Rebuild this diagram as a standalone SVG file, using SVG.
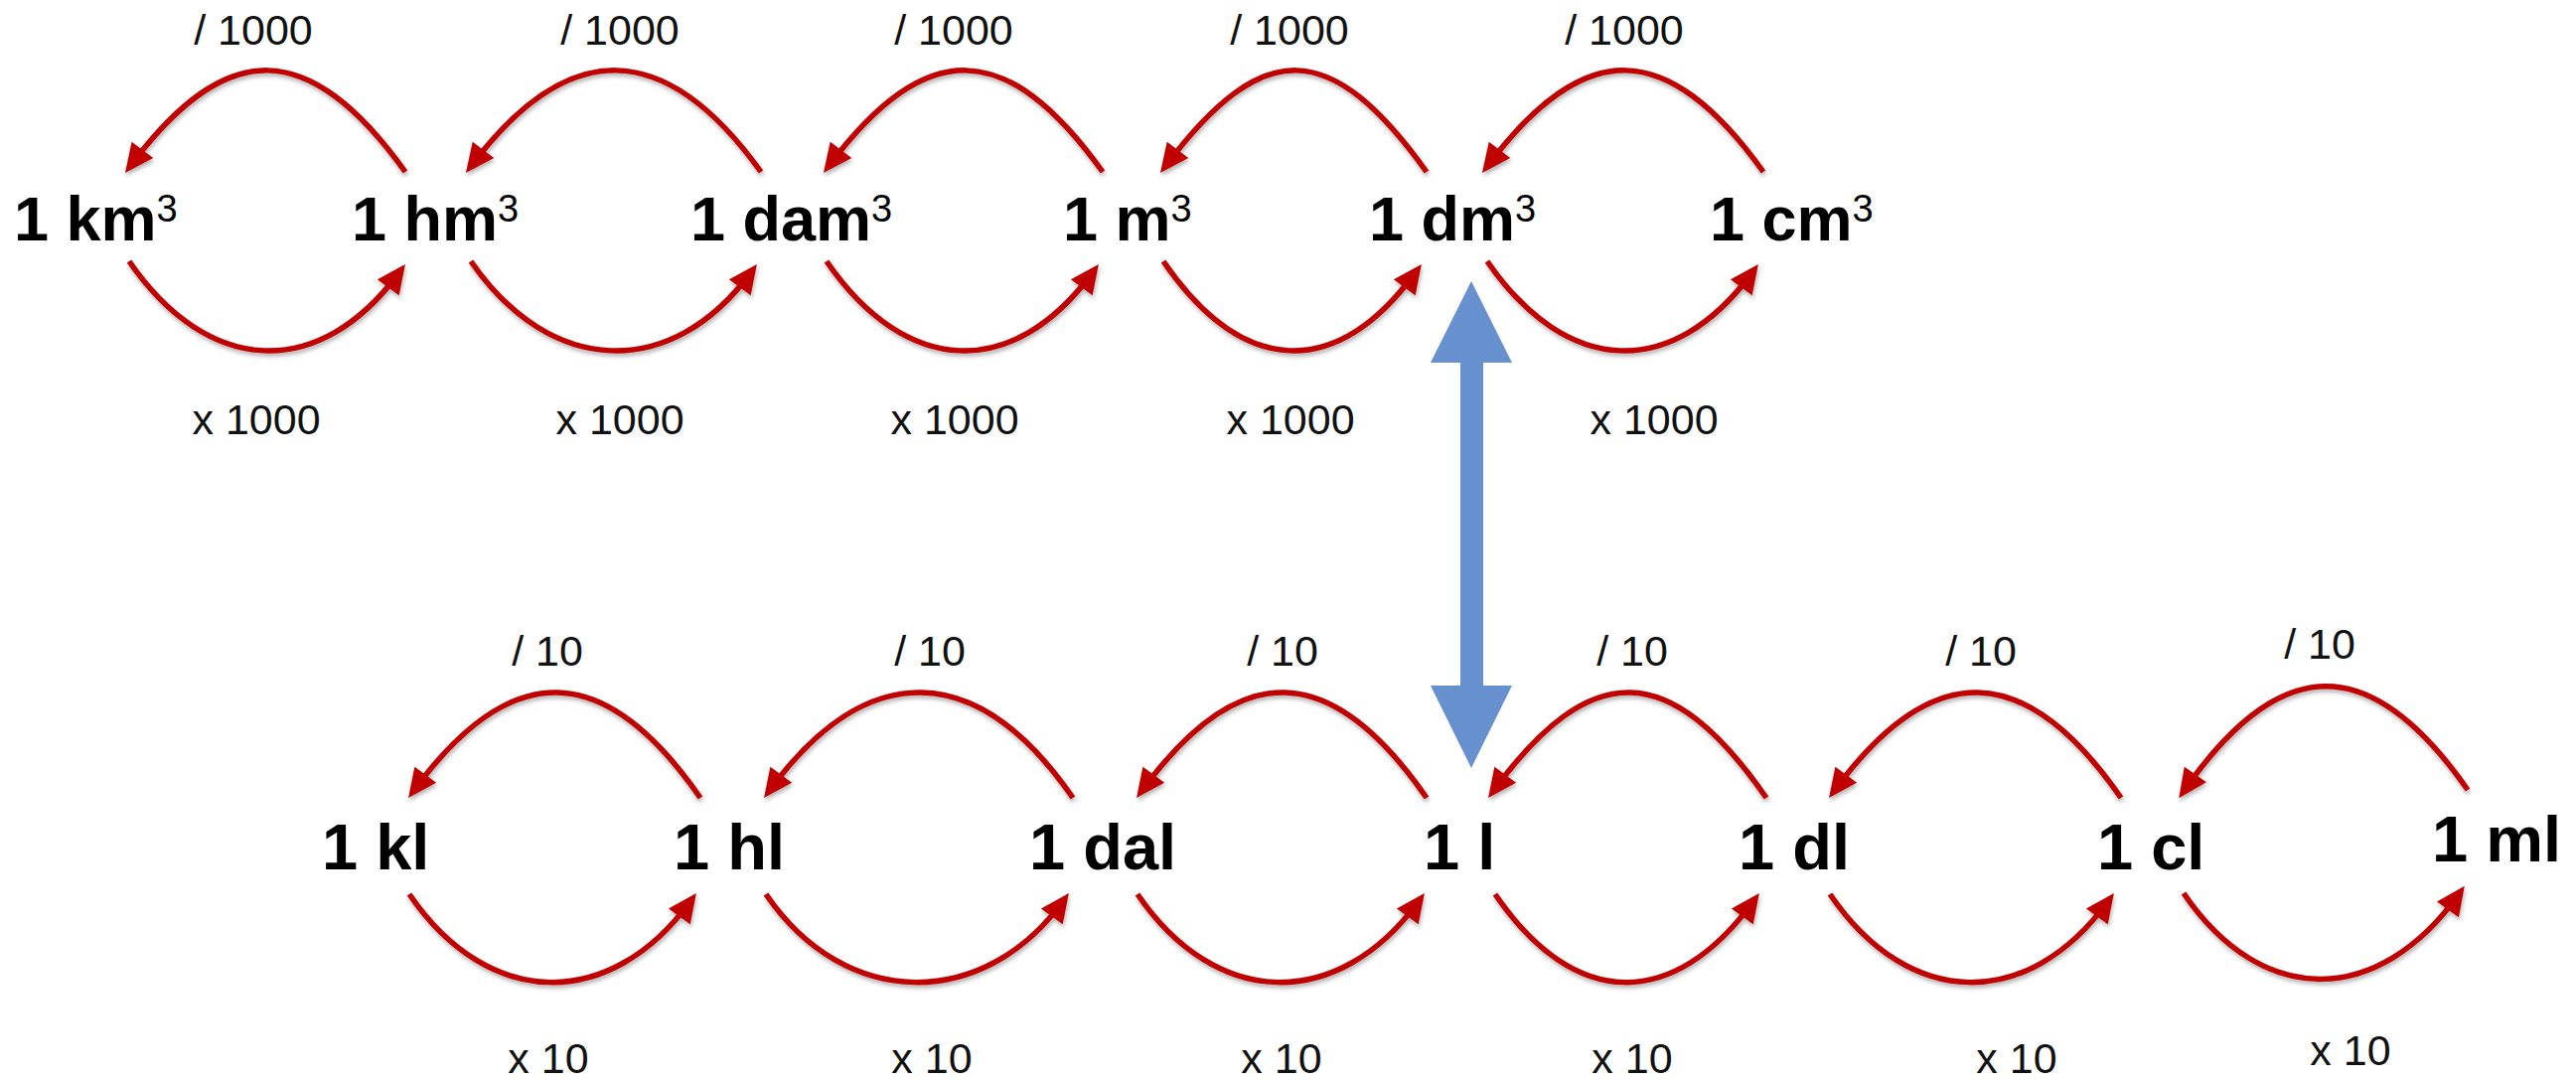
<svg xmlns="http://www.w3.org/2000/svg" width="2593" height="1087" viewBox="0 0 2593 1087">
<style>
.node{font-family:"Liberation Sans",Arial,sans-serif;font-weight:bold;fill:#000}
.top{font-size:63px}
.bot{font-size:65px}
.sup{font-size:38px;font-weight:normal}
.lbl{font-family:"Liberation Sans",Arial,sans-serif;font-size:43px;fill:#111;text-anchor:middle}
.arc{fill:none;stroke:#c00000;stroke-width:5.5;marker-end:url(#ah)}
</style>
<defs>
<marker id="ah" markerUnits="userSpaceOnUse" markerWidth="40" markerHeight="40" refX="19" refY="13.5" orient="auto" overflow="visible">
<path d="M0,0 L29,13.5 L0,27 z" fill="#c00000"/>
</marker>
<filter id="sh" x="-5%" y="-5%" width="110%" height="115%">
<feDropShadow dx="1" dy="3" stdDeviation="2" flood-color="#000" flood-opacity="0.3"/>
</filter>
</defs>
<rect width="2593" height="1087" fill="#fff"/>

<g id="connectors" filter="url(#sh)">
<!-- top row: division arcs (right to left) -->
<path class="arc" d="M408,173 C311,38 228,38 132,166"/>
<path class="arc" d="M766,173 C669,38 572,38 475,166"/>
<path class="arc" d="M1110,173 C1013,38 932,38 835,166"/>
<path class="arc" d="M1436,173 C1339,38 1271,38 1174,166"/>
<path class="arc" d="M1775,173 C1678,38 1595,38 1498,166"/>
<!-- top row: multiplication arcs (left to right) -->
<path class="arc" d="M130,263 C210,379 322,383 402,274"/>
<path class="arc" d="M474,263 C554,379 676,383 756,274"/>
<path class="arc" d="M832,263 C912,379 1020,383 1100,274"/>
<path class="arc" d="M1171,263 C1251,379 1345,383 1425,274"/>
<path class="arc" d="M1497,263 C1577,379 1684,383 1764,274"/>
<!-- bottom row: division arcs -->
<path class="arc" d="M705,803 C608,663 514,663 417,795"/>
<path class="arc" d="M1080,803 C983,663 872,663 775,795"/>
<path class="arc" d="M1436,803 C1339,663 1247,663 1150,795"/>
<path class="arc" d="M1778,803 C1681,663 1601,663 1504,795"/>
<path class="arc" d="M2135,803 C2038,663 1944,663 1847,795"/>
<path class="arc" d="M2484,795 C2387,656 2296,656 2199,795"/>
<!-- bottom row: multiplication arcs -->
<path class="arc" d="M412,900 C492,1017 615,1017 695,907"/>
<path class="arc" d="M771,900 C851,1017 990,1017 1070,907"/>
<path class="arc" d="M1145,900 C1225,1017 1348,1017 1428,907"/>
<path class="arc" d="M1505,900 C1585,1017 1685,1017 1765,907"/>
<path class="arc" d="M1842,900 C1922,1017 2042,1017 2122,907"/>
<path class="arc" d="M2198,899 C2278,1016 2395,1012 2475,900"/>
</g>

<g id="labels">
<text class="lbl" x="255" y="45">/ 1000</text>
<text class="lbl" x="624" y="45">/ 1000</text>
<text class="lbl" x="960" y="45">/ 1000</text>
<text class="lbl" x="1298" y="45">/ 1000</text>
<text class="lbl" x="1635" y="45">/ 1000</text>
<text class="lbl" x="258" y="437">x 1000</text>
<text class="lbl" x="624" y="437">x 1000</text>
<text class="lbl" x="961" y="437">x 1000</text>
<text class="lbl" x="1299" y="437">x 1000</text>
<text class="lbl" x="1665" y="437">x 1000</text>
<text class="lbl" x="551" y="670">/ 10</text>
<text class="lbl" x="936" y="670">/ 10</text>
<text class="lbl" x="1291" y="670">/ 10</text>
<text class="lbl" x="1643" y="670">/ 10</text>
<text class="lbl" x="1994" y="670">/ 10</text>
<text class="lbl" x="2335" y="663">/ 10</text>
<text class="lbl" x="552" y="1080">x 10</text>
<text class="lbl" x="938" y="1080">x 10</text>
<text class="lbl" x="1290" y="1080">x 10</text>
<text class="lbl" x="1643" y="1080">x 10</text>
<text class="lbl" x="2030" y="1080">x 10</text>
<text class="lbl" x="2366" y="1072">x 10</text>
</g>

<g id="link-dm3-l">
<polygon points="1481,283 1522,365 1493,365 1493,690 1522,690 1481,773 1440,690 1470,690 1470,365 1440,365" fill="#6790cf"/>
</g>

<g id="n-km3"><text class="node top" x="14" y="242">1 km<tspan class="sup" dy="-19">3</tspan></text></g>
<g id="n-hm3"><text class="node top" x="354" y="242">1 hm<tspan class="sup" dy="-19">3</tspan></text></g>
<g id="n-dam3"><text class="node top" x="695" y="242">1 dam<tspan class="sup" dy="-19">3</tspan></text></g>
<g id="n-m3"><text class="node top" x="1070" y="242">1 m<tspan class="sup" dy="-19">3</tspan></text></g>
<g id="n-dm3"><text class="node top" x="1378" y="242">1 dm<tspan class="sup" dy="-19">3</tspan></text></g>
<g id="n-cm3"><text class="node top" x="1721" y="242">1 cm<tspan class="sup" dy="-19">3</tspan></text></g>

<g id="n-kl"><text class="node bot" x="324" y="875">1 kl</text></g>
<g id="n-hl"><text class="node bot" x="678" y="875">1 hl</text></g>
<g id="n-dal"><text class="node bot" x="1036" y="875">1 dal</text></g>
<g id="n-l"><text class="node bot" x="1433" y="875">1 l</text></g>
<g id="n-dl"><text class="node bot" x="1750" y="875">1 dl</text></g>
<g id="n-cl"><text class="node bot" x="2111" y="875">1 cl</text></g>
<g id="n-ml"><text class="node bot" x="2448" y="867">1 ml</text></g>
</svg>
